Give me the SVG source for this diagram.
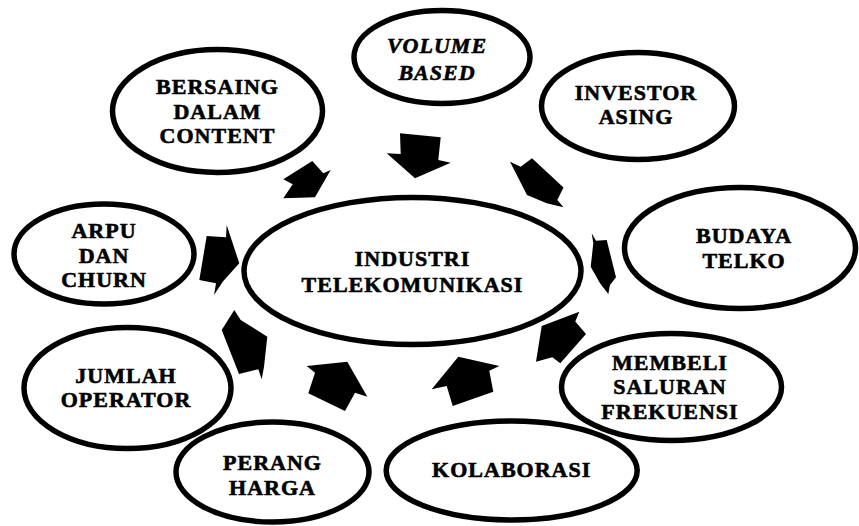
<svg xmlns="http://www.w3.org/2000/svg" width="859" height="526" viewBox="0 0 859 526">
  <style>
    .node ellipse { fill: none; stroke: #000; stroke-width: 5.5; }
    .lbl { text-anchor: middle; fill: #000; stroke: #000; stroke-width: 0.6px; letter-spacing: 1px; }
    .arrow { fill: #000; stroke: none; }
  </style>
  <rect width="859" height="526" fill="#fff"/>

  <!-- block arrows pointing in toward the central ellipse -->
  <g id="connectors">
    <polygon class="arrow" points="283.3,179.3 312.3,161 323.3,173.3 330.7,170 315,197.3 283.3,198.3 292.7,184.3"/>
    <polygon class="arrow" points="400,133.3 440.7,137.3 438.3,160 450.7,162.7 415,178.3 386.7,153.3 400.7,154"/>
    <polygon class="arrow" points="510,161.7 520.7,166.7 532,158.3 563.5,187.5 557.3,200 563.5,207.3 546.7,203.3 527,195"/>
    <polygon class="arrow" points="591.7,233.3 596,240.7 606.7,240 616,277.3 610,285 608.3,294 600,283.3 590.7,266.7 593.3,243.3"/>
    <polygon class="arrow" points="541.7,326 579.3,311.7 575.3,321.5 586,334 560.3,363.3 552.3,357.3 536,361.7"/>
    <polygon class="arrow" points="431.7,389.3 458.3,356.7 499.3,366 489.3,370.7 493.3,391.7 452.7,406 446.7,386"/>
    <polygon class="arrow" points="306.7,366 347.3,361.7 367.3,396.7 355,392.7 345,411 308.3,393.3 315,372.7"/>
    <polygon class="arrow" points="234.3,310 240.7,320 267.3,336.7 264,366.7 261.7,379.3 258.3,369.3 239,374 221.7,330"/>
    <polygon class="arrow" points="206.7,236 226,237.3 226.7,225 239.3,263.3 222.7,281.7 214,295 216,283.3 199.3,280"/>
  </g>

  <g font-family="Liberation Serif, Times New Roman, serif" font-weight="bold" font-size="22">
  <g id="industri" class="node">
    <ellipse cx="412.5" cy="271" rx="168.5" ry="73.5"/>
    <text class="lbl" x="412.5" y="266">INDUSTRI</text>
    <text class="lbl" x="412.5" y="292">TELEKOMUNIKASI</text>
  </g>

  <g id="bersaing" class="node">
    <ellipse cx="217.5" cy="111" rx="105" ry="61.5"/>
    <text class="lbl" x="217.5" y="94">BERSAING</text>
    <text class="lbl" x="217.5" y="118.5">DALAM</text>
    <text class="lbl" x="217.5" y="143">CONTENT</text>
  </g>

  <g id="volume" class="node">
    <ellipse cx="442" cy="57" rx="88" ry="46.5"/>
    <text class="lbl" font-style="italic" x="437" y="53">VOLUME</text>
    <text class="lbl" font-style="italic" x="437" y="80">BASED</text>
  </g>

  <g id="investor" class="node">
    <ellipse cx="638" cy="106" rx="96.5" ry="53.5"/>
    <text class="lbl" x="636" y="100">INVESTOR</text>
    <text class="lbl" x="636" y="124">ASING</text>
  </g>

  <g id="budaya" class="node">
    <ellipse cx="740" cy="248" rx="115.5" ry="60.5"/>
    <text class="lbl" x="744" y="243">BUDAYA</text>
    <text class="lbl" x="744" y="268">TELKO</text>
  </g>

  <g id="membeli" class="node">
    <ellipse cx="671.5" cy="387" rx="110" ry="53.5"/>
    <text class="lbl" x="670" y="370">MEMBELI</text>
    <text class="lbl" x="670" y="394">SALURAN</text>
    <text class="lbl" x="670" y="419">FREKUENSI</text>
  </g>

  <g id="kolaborasi" class="node">
    <ellipse cx="511.7" cy="470.5" rx="125.5" ry="49.5"/>
    <text class="lbl" x="511.7" y="476.5">KOLABORASI</text>
  </g>

  <g id="perang" class="node">
    <ellipse cx="272.5" cy="472" rx="96.5" ry="50"/>
    <text class="lbl" x="272.5" y="470">PERANG</text>
    <text class="lbl" x="272.5" y="495">HARGA</text>
  </g>

  <g id="jumlah" class="node">
    <ellipse cx="127.5" cy="388" rx="103.5" ry="60.5"/>
    <text class="lbl" x="126" y="382.5">JUMLAH</text>
    <text class="lbl" x="126" y="407">OPERATOR</text>
  </g>

  <g id="arpu" class="node">
    <ellipse cx="104" cy="254" rx="90" ry="50"/>
    <text class="lbl" x="104" y="238">ARPU</text>
    <text class="lbl" x="104" y="263">DAN</text>
    <text class="lbl" x="104" y="287">CHURN</text>
  </g>
  </g>
</svg>
